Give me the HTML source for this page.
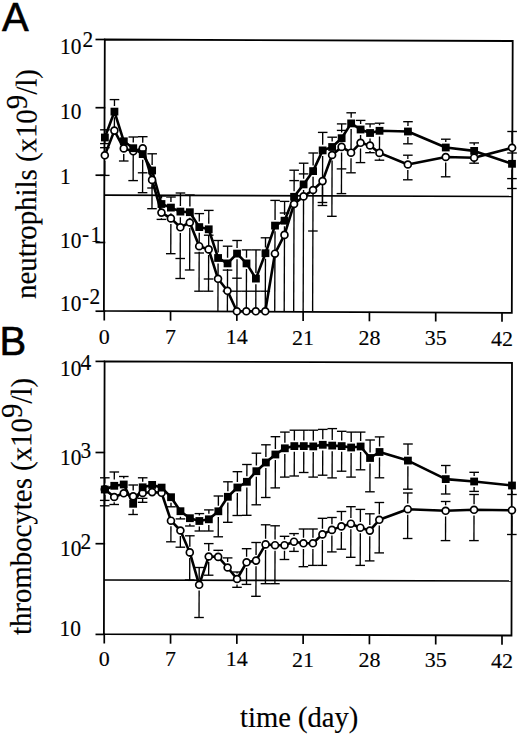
<!DOCTYPE html><html><head><meta charset="utf-8"><style>html,body{margin:0;padding:0;background:#fff;}svg{display:block} text{stroke:#000;stroke-width:0.15px;}</style></head><body>
<svg width="520" height="735" viewBox="0 0 520 735">
<rect width="520" height="735" fill="#fff"/>
<line x1="104.90" y1="131.90" x2="104.91" y2="129.80" stroke="#000" stroke-width="1.35"/>
<line x1="100.11" y1="129.80" x2="109.71" y2="129.80" stroke="#000" stroke-width="1.35"/>
<line x1="104.88" y1="137.50" x2="104.86" y2="143.60" stroke="#000" stroke-width="1.35"/>
<line x1="100.06" y1="143.60" x2="109.66" y2="143.60" stroke="#000" stroke-width="1.35"/>
<line x1="104.84" y1="149.70" x2="104.85" y2="147.70" stroke="#000" stroke-width="1.35"/>
<line x1="100.05" y1="147.70" x2="109.65" y2="147.70" stroke="#000" stroke-width="1.35"/>
<line x1="104.80" y1="160.90" x2="104.75" y2="175.40" stroke="#000" stroke-width="1.35"/>
<line x1="99.95" y1="175.40" x2="109.55" y2="175.40" stroke="#000" stroke-width="1.35"/>
<line x1="114.46" y1="106.00" x2="114.48" y2="99.60" stroke="#000" stroke-width="1.35"/>
<line x1="109.68" y1="99.60" x2="119.28" y2="99.60" stroke="#000" stroke-width="1.35"/>
<line x1="114.42" y1="117.20" x2="114.38" y2="130.60" stroke="#000" stroke-width="1.35"/>
<line x1="123.76" y1="154.00" x2="123.74" y2="161.00" stroke="#000" stroke-width="1.35"/>
<line x1="118.94" y1="161.00" x2="128.54" y2="161.00" stroke="#000" stroke-width="1.35"/>
<line x1="133.27" y1="142.60" x2="133.29" y2="137.00" stroke="#000" stroke-width="1.35"/>
<line x1="128.49" y1="137.00" x2="138.09" y2="137.00" stroke="#000" stroke-width="1.35"/>
<line x1="133.23" y1="153.80" x2="133.14" y2="180.60" stroke="#000" stroke-width="1.35"/>
<line x1="128.34" y1="180.60" x2="137.94" y2="180.60" stroke="#000" stroke-width="1.35"/>
<line x1="142.74" y1="142.80" x2="142.76" y2="136.70" stroke="#000" stroke-width="1.35"/>
<line x1="137.96" y1="136.70" x2="147.56" y2="136.70" stroke="#000" stroke-width="1.35"/>
<line x1="142.68" y1="159.70" x2="142.57" y2="192.70" stroke="#000" stroke-width="1.35"/>
<line x1="137.77" y1="192.70" x2="147.37" y2="192.70" stroke="#000" stroke-width="1.35"/>
<line x1="152.14" y1="164.90" x2="152.17" y2="153.80" stroke="#000" stroke-width="1.35"/>
<line x1="147.37" y1="153.80" x2="156.97" y2="153.80" stroke="#000" stroke-width="1.35"/>
<line x1="152.06" y1="185.50" x2="151.98" y2="208.70" stroke="#000" stroke-width="1.35"/>
<line x1="147.18" y1="208.70" x2="156.78" y2="208.70" stroke="#000" stroke-width="1.35"/>
<line x1="152.10" y1="176.10" x2="152.05" y2="188.00" stroke="#000" stroke-width="1.35"/>
<line x1="147.25" y1="188.00" x2="156.85" y2="188.00" stroke="#000" stroke-width="1.35"/>
<line x1="161.49" y1="198.40" x2="161.50" y2="196.00" stroke="#000" stroke-width="1.35"/>
<line x1="156.70" y1="196.00" x2="166.30" y2="196.00" stroke="#000" stroke-width="1.35"/>
<line x1="161.42" y1="218.20" x2="161.41" y2="219.40" stroke="#000" stroke-width="1.35"/>
<line x1="156.61" y1="219.40" x2="166.21" y2="219.40" stroke="#000" stroke-width="1.35"/>
<line x1="161.45" y1="209.60" x2="161.44" y2="212.60" stroke="#000" stroke-width="1.35"/>
<line x1="170.95" y1="202.00" x2="170.96" y2="197.00" stroke="#000" stroke-width="1.35"/>
<line x1="166.16" y1="197.00" x2="175.76" y2="197.00" stroke="#000" stroke-width="1.35"/>
<line x1="170.87" y1="224.00" x2="170.76" y2="253.70" stroke="#000" stroke-width="1.35"/>
<line x1="165.96" y1="253.70" x2="175.56" y2="253.70" stroke="#000" stroke-width="1.35"/>
<line x1="170.91" y1="213.20" x2="170.89" y2="218.40" stroke="#000" stroke-width="1.35"/>
<line x1="180.40" y1="206.00" x2="180.45" y2="193.00" stroke="#000" stroke-width="1.35"/>
<line x1="175.65" y1="193.00" x2="185.25" y2="193.00" stroke="#000" stroke-width="1.35"/>
<line x1="180.31" y1="232.90" x2="180.15" y2="278.50" stroke="#000" stroke-width="1.35"/>
<line x1="175.35" y1="278.50" x2="184.95" y2="278.50" stroke="#000" stroke-width="1.35"/>
<line x1="180.36" y1="217.20" x2="180.33" y2="227.30" stroke="#000" stroke-width="1.35"/>
<line x1="189.87" y1="206.60" x2="189.91" y2="195.00" stroke="#000" stroke-width="1.35"/>
<line x1="185.11" y1="195.00" x2="194.71" y2="195.00" stroke="#000" stroke-width="1.35"/>
<line x1="189.79" y1="228.10" x2="189.65" y2="270.00" stroke="#000" stroke-width="1.35"/>
<line x1="184.85" y1="270.00" x2="194.45" y2="270.00" stroke="#000" stroke-width="1.35"/>
<line x1="189.83" y1="217.80" x2="189.81" y2="222.50" stroke="#000" stroke-width="1.35"/>
<line x1="199.29" y1="221.50" x2="199.31" y2="213.60" stroke="#000" stroke-width="1.35"/>
<line x1="194.51" y1="213.60" x2="204.11" y2="213.60" stroke="#000" stroke-width="1.35"/>
<line x1="199.18" y1="251.80" x2="199.04" y2="291.20" stroke="#000" stroke-width="1.35"/>
<line x1="194.24" y1="291.20" x2="203.84" y2="291.20" stroke="#000" stroke-width="1.35"/>
<line x1="199.25" y1="232.70" x2="199.20" y2="246.20" stroke="#000" stroke-width="1.35"/>
<line x1="208.75" y1="223.70" x2="208.80" y2="210.40" stroke="#000" stroke-width="1.35"/>
<line x1="204.00" y1="210.40" x2="213.60" y2="210.40" stroke="#000" stroke-width="1.35"/>
<line x1="208.64" y1="255.00" x2="208.51" y2="291.20" stroke="#000" stroke-width="1.35"/>
<line x1="203.71" y1="291.20" x2="213.31" y2="291.20" stroke="#000" stroke-width="1.35"/>
<line x1="208.71" y1="234.90" x2="208.66" y2="249.40" stroke="#000" stroke-width="1.35"/>
<line x1="218.12" y1="252.40" x2="218.16" y2="240.50" stroke="#000" stroke-width="1.35"/>
<line x1="213.36" y1="240.50" x2="222.96" y2="240.50" stroke="#000" stroke-width="1.35"/>
<line x1="218.08" y1="263.60" x2="217.91" y2="311.00" stroke="#000" stroke-width="1.35"/>
<line x1="227.57" y1="257.80" x2="227.61" y2="246.20" stroke="#000" stroke-width="1.35"/>
<line x1="222.81" y1="246.20" x2="232.41" y2="246.20" stroke="#000" stroke-width="1.35"/>
<line x1="227.53" y1="269.00" x2="227.38" y2="311.00" stroke="#000" stroke-width="1.35"/>
<line x1="237.07" y1="248.00" x2="237.10" y2="240.50" stroke="#000" stroke-width="1.35"/>
<line x1="232.30" y1="240.50" x2="241.90" y2="240.50" stroke="#000" stroke-width="1.35"/>
<line x1="237.04" y1="259.20" x2="236.85" y2="311.00" stroke="#000" stroke-width="1.35"/>
<line x1="246.51" y1="257.80" x2="246.54" y2="249.90" stroke="#000" stroke-width="1.35"/>
<line x1="241.74" y1="249.90" x2="251.34" y2="249.90" stroke="#000" stroke-width="1.35"/>
<line x1="246.47" y1="269.00" x2="246.32" y2="311.00" stroke="#000" stroke-width="1.35"/>
<line x1="255.93" y1="273.00" x2="256.01" y2="249.90" stroke="#000" stroke-width="1.35"/>
<line x1="251.21" y1="249.90" x2="260.81" y2="249.90" stroke="#000" stroke-width="1.35"/>
<line x1="255.89" y1="284.20" x2="255.79" y2="311.00" stroke="#000" stroke-width="1.35"/>
<line x1="265.49" y1="247.60" x2="265.52" y2="237.80" stroke="#000" stroke-width="1.35"/>
<line x1="260.72" y1="237.80" x2="270.32" y2="237.80" stroke="#000" stroke-width="1.35"/>
<line x1="265.45" y1="258.80" x2="265.26" y2="311.00" stroke="#000" stroke-width="1.35"/>
<line x1="275.05" y1="220.00" x2="275.12" y2="200.40" stroke="#000" stroke-width="1.35"/>
<line x1="270.32" y1="200.40" x2="279.92" y2="200.40" stroke="#000" stroke-width="1.35"/>
<line x1="275.01" y1="231.20" x2="274.73" y2="311.00" stroke="#000" stroke-width="1.35"/>
<line x1="284.54" y1="215.10" x2="284.59" y2="201.40" stroke="#000" stroke-width="1.35"/>
<line x1="279.79" y1="201.40" x2="289.39" y2="201.40" stroke="#000" stroke-width="1.35"/>
<line x1="284.50" y1="226.30" x2="284.20" y2="311.00" stroke="#000" stroke-width="1.35"/>
<line x1="294.09" y1="191.20" x2="294.17" y2="170.20" stroke="#000" stroke-width="1.35"/>
<line x1="289.37" y1="170.20" x2="298.97" y2="170.20" stroke="#000" stroke-width="1.35"/>
<line x1="294.05" y1="202.40" x2="293.67" y2="311.00" stroke="#000" stroke-width="1.35"/>
<line x1="303.61" y1="178.80" x2="303.66" y2="163.20" stroke="#000" stroke-width="1.35"/>
<line x1="298.86" y1="163.20" x2="308.46" y2="163.20" stroke="#000" stroke-width="1.35"/>
<line x1="303.57" y1="190.00" x2="303.14" y2="311.00" stroke="#000" stroke-width="1.35"/>
<line x1="313.12" y1="165.50" x2="313.17" y2="153.00" stroke="#000" stroke-width="1.35"/>
<line x1="308.37" y1="153.00" x2="317.97" y2="153.00" stroke="#000" stroke-width="1.35"/>
<line x1="313.08" y1="176.70" x2="312.61" y2="311.00" stroke="#000" stroke-width="1.35"/>
<line x1="322.67" y1="144.80" x2="322.71" y2="132.40" stroke="#000" stroke-width="1.35"/>
<line x1="317.91" y1="132.40" x2="327.51" y2="132.40" stroke="#000" stroke-width="1.35"/>
<line x1="322.63" y1="156.00" x2="322.46" y2="202.50" stroke="#000" stroke-width="1.35"/>
<line x1="317.66" y1="202.50" x2="327.26" y2="202.50" stroke="#000" stroke-width="1.35"/>
<line x1="322.52" y1="186.70" x2="322.45" y2="205.50" stroke="#000" stroke-width="1.35"/>
<line x1="317.65" y1="205.50" x2="327.25" y2="205.50" stroke="#000" stroke-width="1.35"/>
<line x1="332.15" y1="141.40" x2="332.16" y2="137.20" stroke="#000" stroke-width="1.35"/>
<line x1="327.36" y1="137.20" x2="336.96" y2="137.20" stroke="#000" stroke-width="1.35"/>
<line x1="332.08" y1="160.60" x2="331.89" y2="216.30" stroke="#000" stroke-width="1.35"/>
<line x1="327.09" y1="216.30" x2="336.69" y2="216.30" stroke="#000" stroke-width="1.35"/>
<line x1="341.65" y1="132.60" x2="341.68" y2="123.90" stroke="#000" stroke-width="1.35"/>
<line x1="336.88" y1="123.90" x2="346.48" y2="123.90" stroke="#000" stroke-width="1.35"/>
<line x1="341.58" y1="152.50" x2="341.43" y2="193.60" stroke="#000" stroke-width="1.35"/>
<line x1="336.63" y1="193.60" x2="346.23" y2="193.60" stroke="#000" stroke-width="1.35"/>
<line x1="351.17" y1="117.80" x2="351.19" y2="112.80" stroke="#000" stroke-width="1.35"/>
<line x1="346.39" y1="112.80" x2="355.99" y2="112.80" stroke="#000" stroke-width="1.35"/>
<line x1="351.03" y1="158.30" x2="350.98" y2="172.80" stroke="#000" stroke-width="1.35"/>
<line x1="346.18" y1="172.80" x2="355.78" y2="172.80" stroke="#000" stroke-width="1.35"/>
<line x1="351.13" y1="129.00" x2="351.05" y2="152.70" stroke="#000" stroke-width="1.35"/>
<line x1="360.62" y1="123.90" x2="360.63" y2="120.40" stroke="#000" stroke-width="1.35"/>
<line x1="355.83" y1="120.40" x2="365.43" y2="120.40" stroke="#000" stroke-width="1.35"/>
<line x1="360.53" y1="148.40" x2="360.48" y2="162.60" stroke="#000" stroke-width="1.35"/>
<line x1="355.68" y1="162.60" x2="365.28" y2="162.60" stroke="#000" stroke-width="1.35"/>
<line x1="360.58" y1="135.10" x2="360.55" y2="142.80" stroke="#000" stroke-width="1.35"/>
<line x1="370.08" y1="127.40" x2="370.09" y2="123.90" stroke="#000" stroke-width="1.35"/>
<line x1="365.29" y1="123.90" x2="374.89" y2="123.90" stroke="#000" stroke-width="1.35"/>
<line x1="369.99" y1="151.10" x2="369.99" y2="152.70" stroke="#000" stroke-width="1.35"/>
<line x1="365.19" y1="152.70" x2="374.79" y2="152.70" stroke="#000" stroke-width="1.35"/>
<line x1="370.04" y1="138.60" x2="370.01" y2="145.50" stroke="#000" stroke-width="1.35"/>
<line x1="379.55" y1="125.20" x2="379.56" y2="123.20" stroke="#000" stroke-width="1.35"/>
<line x1="374.76" y1="123.20" x2="384.36" y2="123.20" stroke="#000" stroke-width="1.35"/>
<line x1="379.44" y1="158.50" x2="379.43" y2="160.20" stroke="#000" stroke-width="1.35"/>
<line x1="374.63" y1="160.20" x2="384.23" y2="160.20" stroke="#000" stroke-width="1.35"/>
<line x1="379.52" y1="136.40" x2="379.46" y2="152.90" stroke="#000" stroke-width="1.35"/>
<line x1="407.96" y1="125.90" x2="407.98" y2="121.70" stroke="#000" stroke-width="1.35"/>
<line x1="403.18" y1="121.70" x2="412.78" y2="121.70" stroke="#000" stroke-width="1.35"/>
<line x1="407.92" y1="137.10" x2="407.90" y2="143.80" stroke="#000" stroke-width="1.35"/>
<line x1="403.10" y1="143.80" x2="412.70" y2="143.80" stroke="#000" stroke-width="1.35"/>
<line x1="407.85" y1="158.90" x2="407.86" y2="155.20" stroke="#000" stroke-width="1.35"/>
<line x1="403.06" y1="155.20" x2="412.66" y2="155.20" stroke="#000" stroke-width="1.35"/>
<line x1="407.81" y1="170.10" x2="407.77" y2="179.80" stroke="#000" stroke-width="1.35"/>
<line x1="402.97" y1="179.80" x2="412.57" y2="179.80" stroke="#000" stroke-width="1.35"/>
<line x1="445.79" y1="141.90" x2="445.80" y2="139.20" stroke="#000" stroke-width="1.35"/>
<line x1="441.00" y1="139.20" x2="450.60" y2="139.20" stroke="#000" stroke-width="1.35"/>
<line x1="445.71" y1="162.60" x2="445.66" y2="176.80" stroke="#000" stroke-width="1.35"/>
<line x1="440.86" y1="176.80" x2="450.46" y2="176.80" stroke="#000" stroke-width="1.35"/>
<line x1="474.18" y1="145.30" x2="474.19" y2="142.90" stroke="#000" stroke-width="1.35"/>
<line x1="469.39" y1="142.90" x2="478.99" y2="142.90" stroke="#000" stroke-width="1.35"/>
<line x1="474.14" y1="157.70" x2="474.12" y2="163.20" stroke="#000" stroke-width="1.35"/>
<line x1="469.32" y1="163.20" x2="478.92" y2="163.20" stroke="#000" stroke-width="1.35"/>
<line x1="512.07" y1="142.20" x2="512.11" y2="131.50" stroke="#000" stroke-width="1.35"/>
<line x1="507.31" y1="131.50" x2="516.91" y2="131.50" stroke="#000" stroke-width="1.35"/>
<line x1="511.98" y1="169.40" x2="511.91" y2="188.50" stroke="#000" stroke-width="1.35"/>
<line x1="507.11" y1="188.50" x2="516.71" y2="188.50" stroke="#000" stroke-width="1.35"/>
<line x1="137.84" y1="172.80" x2="147.44" y2="172.80" stroke="#000" stroke-width="1.35"/>
<line x1="175.42" y1="258.50" x2="185.02" y2="258.50" stroke="#000" stroke-width="1.35"/>
<line x1="194.38" y1="253.00" x2="203.98" y2="253.00" stroke="#000" stroke-width="1.35"/>
<line x1="203.76" y1="279.00" x2="213.36" y2="279.00" stroke="#000" stroke-width="1.35"/>
<line x1="203.91" y1="235.20" x2="213.51" y2="235.20" stroke="#000" stroke-width="1.35"/>
<line x1="222.73" y1="270.10" x2="232.33" y2="270.10" stroke="#000" stroke-width="1.35"/>
<line x1="222.65" y1="291.20" x2="232.25" y2="291.20" stroke="#000" stroke-width="1.35"/>
<line x1="232.17" y1="278.20" x2="241.77" y2="278.20" stroke="#000" stroke-width="1.35"/>
<line x1="232.12" y1="291.20" x2="241.72" y2="291.20" stroke="#000" stroke-width="1.35"/>
<line x1="241.59" y1="291.20" x2="251.19" y2="291.20" stroke="#000" stroke-width="1.35"/>
<line x1="251.06" y1="291.20" x2="260.66" y2="291.20" stroke="#000" stroke-width="1.35"/>
<line x1="260.53" y1="291.20" x2="270.13" y2="291.20" stroke="#000" stroke-width="1.35"/>
<line x1="279.75" y1="213.00" x2="289.35" y2="213.00" stroke="#000" stroke-width="1.35"/>
<line x1="289.33" y1="180.60" x2="298.93" y2="180.60" stroke="#000" stroke-width="1.35"/>
<line x1="298.82" y1="173.90" x2="308.42" y2="173.90" stroke="#000" stroke-width="1.35"/>
<line x1="308.09" y1="231.00" x2="317.69" y2="231.00" stroke="#000" stroke-width="1.35"/>
<line x1="336.72" y1="168.90" x2="346.32" y2="168.90" stroke="#000" stroke-width="1.35"/>
<line x1="336.86" y1="130.40" x2="346.46" y2="130.40" stroke="#000" stroke-width="1.35"/>
<line x1="507.24" y1="153.00" x2="516.84" y2="153.00" stroke="#000" stroke-width="1.35"/>
<line x1="507.15" y1="178.60" x2="516.75" y2="178.60" stroke="#000" stroke-width="1.35"/>
<path d="M104.8,39.5 L512.7,41 L511.8,312.8 L103.9,310.9 Z" fill="none" stroke="#000" stroke-width="1.8"/>
<line x1="104.00" y1="195.20" x2="512.50" y2="196.50" stroke="#000" stroke-width="1.7"/>
<line x1="95.50" y1="39.50" x2="105.30" y2="39.50" stroke="#000" stroke-width="1.7"/>
<line x1="95.50" y1="107.70" x2="105.30" y2="107.70" stroke="#000" stroke-width="1.7"/>
<line x1="95.50" y1="175.20" x2="105.30" y2="175.20" stroke="#000" stroke-width="1.7"/>
<line x1="95.50" y1="242.50" x2="105.30" y2="242.50" stroke="#000" stroke-width="1.7"/>
<line x1="95.50" y1="311.20" x2="105.30" y2="311.20" stroke="#000" stroke-width="1.7"/>
<line x1="104.26" y1="311.00" x2="104.26" y2="320.50" stroke="#000" stroke-width="1.7"/>
<line x1="170.55" y1="311.20" x2="170.55" y2="320.70" stroke="#000" stroke-width="1.7"/>
<line x1="236.84" y1="311.40" x2="236.84" y2="320.90" stroke="#000" stroke-width="1.7"/>
<line x1="303.13" y1="311.60" x2="303.13" y2="321.10" stroke="#000" stroke-width="1.7"/>
<line x1="369.42" y1="311.80" x2="369.42" y2="321.30" stroke="#000" stroke-width="1.7"/>
<line x1="435.71" y1="312.00" x2="435.71" y2="321.50" stroke="#000" stroke-width="1.7"/>
<line x1="502.00" y1="312.20" x2="502.00" y2="321.70" stroke="#000" stroke-width="1.7"/>
<polyline fill="none" stroke="#000" stroke-width="2.6" stroke-linejoin="round" points="104.82,155.30 114.38,130.60 123.78,148.40 133.24,151.30 142.72,148.40 152.08,179.90 161.44,212.60 170.89,218.40 180.33,227.30 189.81,222.50 199.20,246.20 208.66,249.40 218.03,278.80 227.45,290.80 236.85,311.30 246.32,311.30 255.79,311.30 265.26,311.30 274.93,253.70 284.47,234.90 294.05,204.00 303.55,196.40 313.04,190.00 322.54,181.10 332.10,155.00 341.60,146.90 351.05,152.70 360.55,142.80 370.01,145.50 379.46,152.90 407.83,164.50 445.73,157.00 474.14,157.70 512.06,147.80"/>
<polyline fill="none" stroke="#000" stroke-width="2.6" stroke-linejoin="round" points="104.88,137.50 114.44,111.60 123.81,141.30 133.25,148.20 142.70,154.10 152.12,170.50 161.47,204.00 170.93,207.60 180.38,211.60 189.85,212.20 199.27,227.10 208.73,229.30 218.10,258.00 227.55,263.40 237.05,253.60 246.49,263.40 255.91,278.60 265.47,253.20 275.03,225.60 284.52,220.70 294.07,196.80 303.59,184.40 313.10,171.10 322.65,150.40 332.13,147.00 341.63,138.20 351.15,123.40 360.60,129.50 370.06,133.00 379.53,130.80 407.94,131.50 445.77,147.50 474.16,150.90 512.00,163.80"/>
<circle cx="104.82" cy="155.30" r="3.45" fill="#fff" stroke="#000" stroke-width="1.7"/>
<circle cx="114.38" cy="130.60" r="3.45" fill="#fff" stroke="#000" stroke-width="1.7"/>
<circle cx="123.78" cy="148.40" r="3.45" fill="#fff" stroke="#000" stroke-width="1.7"/>
<circle cx="133.24" cy="151.30" r="3.45" fill="#fff" stroke="#000" stroke-width="1.7"/>
<circle cx="142.72" cy="148.40" r="3.45" fill="#fff" stroke="#000" stroke-width="1.7"/>
<circle cx="152.08" cy="179.90" r="3.45" fill="#fff" stroke="#000" stroke-width="1.7"/>
<circle cx="161.44" cy="212.60" r="3.45" fill="#fff" stroke="#000" stroke-width="1.7"/>
<circle cx="170.89" cy="218.40" r="3.45" fill="#fff" stroke="#000" stroke-width="1.7"/>
<circle cx="180.33" cy="227.30" r="3.45" fill="#fff" stroke="#000" stroke-width="1.7"/>
<circle cx="189.81" cy="222.50" r="3.45" fill="#fff" stroke="#000" stroke-width="1.7"/>
<circle cx="199.20" cy="246.20" r="3.45" fill="#fff" stroke="#000" stroke-width="1.7"/>
<circle cx="208.66" cy="249.40" r="3.45" fill="#fff" stroke="#000" stroke-width="1.7"/>
<circle cx="218.03" cy="278.80" r="3.45" fill="#fff" stroke="#000" stroke-width="1.7"/>
<circle cx="227.45" cy="290.80" r="3.45" fill="#fff" stroke="#000" stroke-width="1.7"/>
<circle cx="236.85" cy="311.30" r="3.45" fill="#fff" stroke="#000" stroke-width="1.7"/>
<circle cx="246.32" cy="311.30" r="3.45" fill="#fff" stroke="#000" stroke-width="1.7"/>
<circle cx="255.79" cy="311.30" r="3.45" fill="#fff" stroke="#000" stroke-width="1.7"/>
<circle cx="265.26" cy="311.30" r="3.45" fill="#fff" stroke="#000" stroke-width="1.7"/>
<circle cx="274.93" cy="253.70" r="3.45" fill="#fff" stroke="#000" stroke-width="1.7"/>
<circle cx="284.47" cy="234.90" r="3.45" fill="#fff" stroke="#000" stroke-width="1.7"/>
<circle cx="294.05" cy="204.00" r="3.45" fill="#fff" stroke="#000" stroke-width="1.7"/>
<circle cx="303.55" cy="196.40" r="3.45" fill="#fff" stroke="#000" stroke-width="1.7"/>
<circle cx="313.04" cy="190.00" r="3.45" fill="#fff" stroke="#000" stroke-width="1.7"/>
<circle cx="322.54" cy="181.10" r="3.45" fill="#fff" stroke="#000" stroke-width="1.7"/>
<circle cx="332.10" cy="155.00" r="3.45" fill="#fff" stroke="#000" stroke-width="1.7"/>
<circle cx="341.60" cy="146.90" r="3.45" fill="#fff" stroke="#000" stroke-width="1.7"/>
<circle cx="351.05" cy="152.70" r="3.45" fill="#fff" stroke="#000" stroke-width="1.7"/>
<circle cx="360.55" cy="142.80" r="3.45" fill="#fff" stroke="#000" stroke-width="1.7"/>
<circle cx="370.01" cy="145.50" r="3.45" fill="#fff" stroke="#000" stroke-width="1.7"/>
<circle cx="379.46" cy="152.90" r="3.45" fill="#fff" stroke="#000" stroke-width="1.7"/>
<circle cx="407.83" cy="164.50" r="3.45" fill="#fff" stroke="#000" stroke-width="1.7"/>
<circle cx="445.73" cy="157.00" r="3.45" fill="#fff" stroke="#000" stroke-width="1.7"/>
<circle cx="474.14" cy="157.70" r="3.45" fill="#fff" stroke="#000" stroke-width="1.7"/>
<circle cx="512.06" cy="147.80" r="3.45" fill="#fff" stroke="#000" stroke-width="1.7"/>
<rect x="100.98" y="133.60" width="7.8" height="7.8" fill="#000"/>
<rect x="110.54" y="107.70" width="7.8" height="7.8" fill="#000"/>
<rect x="119.91" y="137.40" width="7.8" height="7.8" fill="#000"/>
<rect x="129.35" y="144.30" width="7.8" height="7.8" fill="#000"/>
<rect x="138.80" y="150.20" width="7.8" height="7.8" fill="#000"/>
<rect x="148.22" y="166.60" width="7.8" height="7.8" fill="#000"/>
<rect x="157.57" y="200.10" width="7.8" height="7.8" fill="#000"/>
<rect x="167.03" y="203.70" width="7.8" height="7.8" fill="#000"/>
<rect x="176.48" y="207.70" width="7.8" height="7.8" fill="#000"/>
<rect x="185.95" y="208.30" width="7.8" height="7.8" fill="#000"/>
<rect x="195.37" y="223.20" width="7.8" height="7.8" fill="#000"/>
<rect x="204.83" y="225.40" width="7.8" height="7.8" fill="#000"/>
<rect x="214.20" y="254.10" width="7.8" height="7.8" fill="#000"/>
<rect x="223.65" y="259.50" width="7.8" height="7.8" fill="#000"/>
<rect x="233.15" y="249.70" width="7.8" height="7.8" fill="#000"/>
<rect x="242.59" y="259.50" width="7.8" height="7.8" fill="#000"/>
<rect x="252.01" y="274.70" width="7.8" height="7.8" fill="#000"/>
<rect x="261.57" y="249.30" width="7.8" height="7.8" fill="#000"/>
<rect x="271.13" y="221.70" width="7.8" height="7.8" fill="#000"/>
<rect x="280.62" y="216.80" width="7.8" height="7.8" fill="#000"/>
<rect x="290.17" y="192.90" width="7.8" height="7.8" fill="#000"/>
<rect x="299.69" y="180.50" width="7.8" height="7.8" fill="#000"/>
<rect x="309.20" y="167.20" width="7.8" height="7.8" fill="#000"/>
<rect x="318.75" y="146.50" width="7.8" height="7.8" fill="#000"/>
<rect x="328.23" y="143.10" width="7.8" height="7.8" fill="#000"/>
<rect x="337.73" y="134.30" width="7.8" height="7.8" fill="#000"/>
<rect x="347.25" y="119.50" width="7.8" height="7.8" fill="#000"/>
<rect x="356.70" y="125.60" width="7.8" height="7.8" fill="#000"/>
<rect x="366.16" y="129.10" width="7.8" height="7.8" fill="#000"/>
<rect x="375.63" y="126.90" width="7.8" height="7.8" fill="#000"/>
<rect x="404.04" y="127.60" width="7.8" height="7.8" fill="#000"/>
<rect x="441.87" y="143.60" width="7.8" height="7.8" fill="#000"/>
<rect x="470.26" y="147.00" width="7.8" height="7.8" fill="#000"/>
<rect x="508.10" y="159.90" width="7.8" height="7.8" fill="#000"/>
<text x="104.3" y="343.7" text-anchor="middle" font-family='"Liberation Serif", serif' font-size="22">0</text>
<text x="170.6" y="344.0" text-anchor="middle" font-family='"Liberation Serif", serif' font-size="22">7</text>
<text x="236.8" y="344.3" text-anchor="middle" font-family='"Liberation Serif", serif' font-size="22">14</text>
<text x="303.1" y="344.6" text-anchor="middle" font-family='"Liberation Serif", serif' font-size="22">21</text>
<text x="369.4" y="344.9" text-anchor="middle" font-family='"Liberation Serif", serif' font-size="22">28</text>
<text x="435.7" y="345.2" text-anchor="middle" font-family='"Liberation Serif", serif' font-size="22">35</text>
<text x="502.0" y="345.5" text-anchor="middle" font-family='"Liberation Serif", serif' font-size="22">42</text>
<line x1="104.80" y1="483.60" x2="104.82" y2="477.80" stroke="#000" stroke-width="1.35"/>
<line x1="100.02" y1="477.80" x2="109.62" y2="477.80" stroke="#000" stroke-width="1.35"/>
<line x1="104.76" y1="494.80" x2="104.74" y2="500.40" stroke="#000" stroke-width="1.35"/>
<line x1="99.94" y1="500.40" x2="109.54" y2="500.40" stroke="#000" stroke-width="1.35"/>
<line x1="104.76" y1="494.60" x2="104.72" y2="505.80" stroke="#000" stroke-width="1.35"/>
<line x1="99.92" y1="505.80" x2="109.52" y2="505.80" stroke="#000" stroke-width="1.35"/>
<line x1="114.29" y1="479.40" x2="114.31" y2="472.00" stroke="#000" stroke-width="1.35"/>
<line x1="109.51" y1="472.00" x2="119.11" y2="472.00" stroke="#000" stroke-width="1.35"/>
<line x1="114.20" y1="502.30" x2="114.20" y2="504.50" stroke="#000" stroke-width="1.35"/>
<line x1="109.40" y1="504.50" x2="119.00" y2="504.50" stroke="#000" stroke-width="1.35"/>
<line x1="123.76" y1="478.50" x2="123.77" y2="476.50" stroke="#000" stroke-width="1.35"/>
<line x1="118.97" y1="476.50" x2="128.57" y2="476.50" stroke="#000" stroke-width="1.35"/>
<line x1="133.12" y1="509.20" x2="133.10" y2="514.50" stroke="#000" stroke-width="1.35"/>
<line x1="128.30" y1="514.50" x2="137.90" y2="514.50" stroke="#000" stroke-width="1.35"/>
<line x1="133.19" y1="490.40" x2="133.21" y2="485.00" stroke="#000" stroke-width="1.35"/>
<line x1="128.41" y1="485.00" x2="138.01" y2="485.00" stroke="#000" stroke-width="1.35"/>
<line x1="142.69" y1="481.70" x2="142.70" y2="477.80" stroke="#000" stroke-width="1.35"/>
<line x1="137.90" y1="477.80" x2="147.50" y2="477.80" stroke="#000" stroke-width="1.35"/>
<line x1="142.63" y1="498.60" x2="142.61" y2="502.30" stroke="#000" stroke-width="1.35"/>
<line x1="137.81" y1="502.30" x2="147.41" y2="502.30" stroke="#000" stroke-width="1.35"/>
<line x1="171.02" y1="502.80" x2="171.01" y2="506.80" stroke="#000" stroke-width="1.35"/>
<line x1="166.21" y1="506.80" x2="175.81" y2="506.80" stroke="#000" stroke-width="1.35"/>
<line x1="170.94" y1="526.30" x2="170.89" y2="541.80" stroke="#000" stroke-width="1.35"/>
<line x1="166.09" y1="541.80" x2="175.69" y2="541.80" stroke="#000" stroke-width="1.35"/>
<line x1="180.44" y1="516.80" x2="180.44" y2="518.90" stroke="#000" stroke-width="1.35"/>
<line x1="175.64" y1="518.90" x2="185.24" y2="518.90" stroke="#000" stroke-width="1.35"/>
<line x1="180.38" y1="536.10" x2="180.34" y2="547.20" stroke="#000" stroke-width="1.35"/>
<line x1="175.54" y1="547.20" x2="185.14" y2="547.20" stroke="#000" stroke-width="1.35"/>
<line x1="189.89" y1="523.80" x2="189.88" y2="526.00" stroke="#000" stroke-width="1.35"/>
<line x1="185.08" y1="526.00" x2="194.68" y2="526.00" stroke="#000" stroke-width="1.35"/>
<line x1="189.81" y1="546.80" x2="189.85" y2="535.80" stroke="#000" stroke-width="1.35"/>
<line x1="185.05" y1="535.80" x2="194.65" y2="535.80" stroke="#000" stroke-width="1.35"/>
<line x1="189.77" y1="558.00" x2="189.69" y2="580.00" stroke="#000" stroke-width="1.35"/>
<line x1="184.89" y1="580.00" x2="194.49" y2="580.00" stroke="#000" stroke-width="1.35"/>
<line x1="199.39" y1="515.40" x2="199.40" y2="513.60" stroke="#000" stroke-width="1.35"/>
<line x1="194.60" y1="513.60" x2="204.20" y2="513.60" stroke="#000" stroke-width="1.35"/>
<line x1="199.35" y1="526.60" x2="199.33" y2="531.00" stroke="#000" stroke-width="1.35"/>
<line x1="194.53" y1="531.00" x2="204.13" y2="531.00" stroke="#000" stroke-width="1.35"/>
<line x1="199.17" y1="579.20" x2="199.21" y2="567.50" stroke="#000" stroke-width="1.35"/>
<line x1="194.41" y1="567.50" x2="204.01" y2="567.50" stroke="#000" stroke-width="1.35"/>
<line x1="199.13" y1="590.40" x2="199.03" y2="617.50" stroke="#000" stroke-width="1.35"/>
<line x1="194.23" y1="617.50" x2="203.83" y2="617.50" stroke="#000" stroke-width="1.35"/>
<line x1="208.87" y1="513.70" x2="208.88" y2="509.90" stroke="#000" stroke-width="1.35"/>
<line x1="204.08" y1="509.90" x2="213.68" y2="509.90" stroke="#000" stroke-width="1.35"/>
<line x1="208.83" y1="524.90" x2="208.80" y2="531.00" stroke="#000" stroke-width="1.35"/>
<line x1="204.00" y1="531.00" x2="213.60" y2="531.00" stroke="#000" stroke-width="1.35"/>
<line x1="208.73" y1="550.90" x2="208.76" y2="543.60" stroke="#000" stroke-width="1.35"/>
<line x1="203.96" y1="543.60" x2="213.56" y2="543.60" stroke="#000" stroke-width="1.35"/>
<line x1="208.70" y1="562.10" x2="208.65" y2="575.20" stroke="#000" stroke-width="1.35"/>
<line x1="203.85" y1="575.20" x2="213.45" y2="575.20" stroke="#000" stroke-width="1.35"/>
<line x1="218.36" y1="505.70" x2="218.40" y2="496.00" stroke="#000" stroke-width="1.35"/>
<line x1="213.60" y1="496.00" x2="223.20" y2="496.00" stroke="#000" stroke-width="1.35"/>
<line x1="218.32" y1="516.90" x2="218.25" y2="536.80" stroke="#000" stroke-width="1.35"/>
<line x1="213.45" y1="536.80" x2="223.05" y2="536.80" stroke="#000" stroke-width="1.35"/>
<line x1="218.20" y1="551.30" x2="218.21" y2="550.30" stroke="#000" stroke-width="1.35"/>
<line x1="213.41" y1="550.30" x2="223.01" y2="550.30" stroke="#000" stroke-width="1.35"/>
<line x1="227.88" y1="491.20" x2="227.92" y2="481.80" stroke="#000" stroke-width="1.35"/>
<line x1="223.12" y1="481.80" x2="232.72" y2="481.80" stroke="#000" stroke-width="1.35"/>
<line x1="227.84" y1="502.40" x2="227.77" y2="522.30" stroke="#000" stroke-width="1.35"/>
<line x1="222.97" y1="522.30" x2="232.57" y2="522.30" stroke="#000" stroke-width="1.35"/>
<line x1="227.64" y1="561.90" x2="227.65" y2="557.90" stroke="#000" stroke-width="1.35"/>
<line x1="222.85" y1="557.90" x2="232.45" y2="557.90" stroke="#000" stroke-width="1.35"/>
<line x1="237.39" y1="481.90" x2="237.42" y2="471.70" stroke="#000" stroke-width="1.35"/>
<line x1="232.62" y1="471.70" x2="242.22" y2="471.70" stroke="#000" stroke-width="1.35"/>
<line x1="237.35" y1="493.10" x2="237.27" y2="515.50" stroke="#000" stroke-width="1.35"/>
<line x1="232.47" y1="515.50" x2="242.07" y2="515.50" stroke="#000" stroke-width="1.35"/>
<line x1="237.03" y1="584.60" x2="237.02" y2="587.30" stroke="#000" stroke-width="1.35"/>
<line x1="232.22" y1="587.30" x2="241.82" y2="587.30" stroke="#000" stroke-width="1.35"/>
<line x1="237.07" y1="573.40" x2="237.07" y2="572.00" stroke="#000" stroke-width="1.35"/>
<line x1="232.27" y1="572.00" x2="241.87" y2="572.00" stroke="#000" stroke-width="1.35"/>
<line x1="246.88" y1="476.20" x2="246.92" y2="464.50" stroke="#000" stroke-width="1.35"/>
<line x1="242.12" y1="464.50" x2="251.72" y2="464.50" stroke="#000" stroke-width="1.35"/>
<line x1="246.84" y1="487.40" x2="246.74" y2="515.30" stroke="#000" stroke-width="1.35"/>
<line x1="241.94" y1="515.30" x2="251.54" y2="515.30" stroke="#000" stroke-width="1.35"/>
<line x1="246.59" y1="556.70" x2="246.62" y2="548.70" stroke="#000" stroke-width="1.35"/>
<line x1="241.82" y1="548.70" x2="251.42" y2="548.70" stroke="#000" stroke-width="1.35"/>
<line x1="246.56" y1="567.90" x2="246.50" y2="584.40" stroke="#000" stroke-width="1.35"/>
<line x1="241.70" y1="584.40" x2="251.30" y2="584.40" stroke="#000" stroke-width="1.35"/>
<line x1="256.38" y1="465.60" x2="256.43" y2="453.20" stroke="#000" stroke-width="1.35"/>
<line x1="251.63" y1="453.20" x2="261.23" y2="453.20" stroke="#000" stroke-width="1.35"/>
<line x1="256.34" y1="476.80" x2="256.25" y2="504.80" stroke="#000" stroke-width="1.35"/>
<line x1="251.45" y1="504.80" x2="261.05" y2="504.80" stroke="#000" stroke-width="1.35"/>
<line x1="256.07" y1="555.00" x2="256.11" y2="542.50" stroke="#000" stroke-width="1.35"/>
<line x1="251.31" y1="542.50" x2="260.91" y2="542.50" stroke="#000" stroke-width="1.35"/>
<line x1="256.03" y1="566.20" x2="255.93" y2="596.30" stroke="#000" stroke-width="1.35"/>
<line x1="251.13" y1="596.30" x2="260.73" y2="596.30" stroke="#000" stroke-width="1.35"/>
<line x1="265.88" y1="456.90" x2="265.93" y2="444.80" stroke="#000" stroke-width="1.35"/>
<line x1="261.13" y1="444.80" x2="270.73" y2="444.80" stroke="#000" stroke-width="1.35"/>
<line x1="265.84" y1="468.10" x2="265.74" y2="497.50" stroke="#000" stroke-width="1.35"/>
<line x1="260.94" y1="497.50" x2="270.54" y2="497.50" stroke="#000" stroke-width="1.35"/>
<line x1="265.60" y1="538.80" x2="265.65" y2="524.80" stroke="#000" stroke-width="1.35"/>
<line x1="260.85" y1="524.80" x2="270.45" y2="524.80" stroke="#000" stroke-width="1.35"/>
<line x1="265.56" y1="550.00" x2="265.44" y2="583.70" stroke="#000" stroke-width="1.35"/>
<line x1="260.64" y1="583.70" x2="270.24" y2="583.70" stroke="#000" stroke-width="1.35"/>
<line x1="275.38" y1="448.90" x2="275.42" y2="436.70" stroke="#000" stroke-width="1.35"/>
<line x1="270.62" y1="436.70" x2="280.22" y2="436.70" stroke="#000" stroke-width="1.35"/>
<line x1="275.34" y1="460.10" x2="275.25" y2="487.90" stroke="#000" stroke-width="1.35"/>
<line x1="270.45" y1="487.90" x2="280.05" y2="487.90" stroke="#000" stroke-width="1.35"/>
<line x1="275.06" y1="539.60" x2="275.11" y2="525.80" stroke="#000" stroke-width="1.35"/>
<line x1="270.31" y1="525.80" x2="279.91" y2="525.80" stroke="#000" stroke-width="1.35"/>
<line x1="275.03" y1="550.80" x2="274.91" y2="583.70" stroke="#000" stroke-width="1.35"/>
<line x1="270.11" y1="583.70" x2="279.71" y2="583.70" stroke="#000" stroke-width="1.35"/>
<line x1="284.87" y1="442.70" x2="284.91" y2="432.10" stroke="#000" stroke-width="1.35"/>
<line x1="280.11" y1="432.10" x2="289.71" y2="432.10" stroke="#000" stroke-width="1.35"/>
<line x1="284.83" y1="453.90" x2="284.75" y2="477.10" stroke="#000" stroke-width="1.35"/>
<line x1="279.95" y1="477.10" x2="289.55" y2="477.10" stroke="#000" stroke-width="1.35"/>
<line x1="284.53" y1="539.60" x2="284.55" y2="536.30" stroke="#000" stroke-width="1.35"/>
<line x1="279.75" y1="536.30" x2="289.35" y2="536.30" stroke="#000" stroke-width="1.35"/>
<line x1="284.50" y1="550.80" x2="284.46" y2="559.50" stroke="#000" stroke-width="1.35"/>
<line x1="279.66" y1="559.50" x2="289.26" y2="559.50" stroke="#000" stroke-width="1.35"/>
<line x1="294.35" y1="440.50" x2="294.39" y2="430.20" stroke="#000" stroke-width="1.35"/>
<line x1="289.59" y1="430.20" x2="299.19" y2="430.20" stroke="#000" stroke-width="1.35"/>
<line x1="294.31" y1="451.70" x2="294.23" y2="476.00" stroke="#000" stroke-width="1.35"/>
<line x1="289.43" y1="476.00" x2="299.03" y2="476.00" stroke="#000" stroke-width="1.35"/>
<line x1="294.02" y1="536.10" x2="294.03" y2="533.60" stroke="#000" stroke-width="1.35"/>
<line x1="289.23" y1="533.60" x2="298.83" y2="533.60" stroke="#000" stroke-width="1.35"/>
<line x1="293.98" y1="547.30" x2="293.96" y2="551.40" stroke="#000" stroke-width="1.35"/>
<line x1="289.16" y1="551.40" x2="298.76" y2="551.40" stroke="#000" stroke-width="1.35"/>
<line x1="303.82" y1="440.50" x2="303.86" y2="430.20" stroke="#000" stroke-width="1.35"/>
<line x1="299.06" y1="430.20" x2="308.66" y2="430.20" stroke="#000" stroke-width="1.35"/>
<line x1="303.78" y1="451.70" x2="303.71" y2="472.50" stroke="#000" stroke-width="1.35"/>
<line x1="298.91" y1="472.50" x2="308.51" y2="472.50" stroke="#000" stroke-width="1.35"/>
<line x1="303.48" y1="537.70" x2="303.51" y2="529.00" stroke="#000" stroke-width="1.35"/>
<line x1="298.71" y1="529.00" x2="308.31" y2="529.00" stroke="#000" stroke-width="1.35"/>
<line x1="303.44" y1="548.90" x2="303.38" y2="566.70" stroke="#000" stroke-width="1.35"/>
<line x1="298.58" y1="566.70" x2="308.18" y2="566.70" stroke="#000" stroke-width="1.35"/>
<line x1="313.29" y1="440.80" x2="313.33" y2="430.20" stroke="#000" stroke-width="1.35"/>
<line x1="308.53" y1="430.20" x2="318.13" y2="430.20" stroke="#000" stroke-width="1.35"/>
<line x1="313.25" y1="452.00" x2="313.16" y2="477.10" stroke="#000" stroke-width="1.35"/>
<line x1="308.36" y1="477.10" x2="317.96" y2="477.10" stroke="#000" stroke-width="1.35"/>
<line x1="312.95" y1="537.70" x2="312.98" y2="529.00" stroke="#000" stroke-width="1.35"/>
<line x1="308.18" y1="529.00" x2="317.78" y2="529.00" stroke="#000" stroke-width="1.35"/>
<line x1="312.91" y1="548.90" x2="312.85" y2="565.40" stroke="#000" stroke-width="1.35"/>
<line x1="308.05" y1="565.40" x2="317.65" y2="565.40" stroke="#000" stroke-width="1.35"/>
<line x1="322.77" y1="439.20" x2="322.80" y2="429.40" stroke="#000" stroke-width="1.35"/>
<line x1="318.00" y1="429.40" x2="327.60" y2="429.40" stroke="#000" stroke-width="1.35"/>
<line x1="322.73" y1="450.40" x2="322.64" y2="475.20" stroke="#000" stroke-width="1.35"/>
<line x1="317.84" y1="475.20" x2="327.44" y2="475.20" stroke="#000" stroke-width="1.35"/>
<line x1="322.45" y1="528.80" x2="322.49" y2="518.30" stroke="#000" stroke-width="1.35"/>
<line x1="317.69" y1="518.30" x2="327.29" y2="518.30" stroke="#000" stroke-width="1.35"/>
<line x1="322.41" y1="540.00" x2="322.32" y2="565.40" stroke="#000" stroke-width="1.35"/>
<line x1="317.52" y1="565.40" x2="327.12" y2="565.40" stroke="#000" stroke-width="1.35"/>
<line x1="332.23" y1="440.00" x2="332.27" y2="428.60" stroke="#000" stroke-width="1.35"/>
<line x1="327.47" y1="428.60" x2="337.07" y2="428.60" stroke="#000" stroke-width="1.35"/>
<line x1="332.19" y1="451.20" x2="332.10" y2="477.90" stroke="#000" stroke-width="1.35"/>
<line x1="327.30" y1="477.90" x2="336.90" y2="477.90" stroke="#000" stroke-width="1.35"/>
<line x1="331.94" y1="524.30" x2="331.96" y2="517.50" stroke="#000" stroke-width="1.35"/>
<line x1="327.16" y1="517.50" x2="336.76" y2="517.50" stroke="#000" stroke-width="1.35"/>
<line x1="331.90" y1="535.50" x2="331.84" y2="551.90" stroke="#000" stroke-width="1.35"/>
<line x1="327.04" y1="551.90" x2="336.64" y2="551.90" stroke="#000" stroke-width="1.35"/>
<line x1="341.70" y1="440.50" x2="341.73" y2="431.30" stroke="#000" stroke-width="1.35"/>
<line x1="336.93" y1="431.30" x2="346.53" y2="431.30" stroke="#000" stroke-width="1.35"/>
<line x1="341.66" y1="451.70" x2="341.59" y2="471.20" stroke="#000" stroke-width="1.35"/>
<line x1="336.79" y1="471.20" x2="346.39" y2="471.20" stroke="#000" stroke-width="1.35"/>
<line x1="341.42" y1="520.80" x2="341.45" y2="511.50" stroke="#000" stroke-width="1.35"/>
<line x1="336.65" y1="511.50" x2="346.25" y2="511.50" stroke="#000" stroke-width="1.35"/>
<line x1="341.38" y1="532.00" x2="341.32" y2="549.20" stroke="#000" stroke-width="1.35"/>
<line x1="336.52" y1="549.20" x2="346.12" y2="549.20" stroke="#000" stroke-width="1.35"/>
<line x1="351.17" y1="441.90" x2="351.20" y2="432.10" stroke="#000" stroke-width="1.35"/>
<line x1="346.40" y1="432.10" x2="356.00" y2="432.10" stroke="#000" stroke-width="1.35"/>
<line x1="351.13" y1="453.10" x2="351.04" y2="477.10" stroke="#000" stroke-width="1.35"/>
<line x1="346.24" y1="477.10" x2="355.84" y2="477.10" stroke="#000" stroke-width="1.35"/>
<line x1="350.90" y1="518.10" x2="350.94" y2="506.70" stroke="#000" stroke-width="1.35"/>
<line x1="346.14" y1="506.70" x2="355.74" y2="506.70" stroke="#000" stroke-width="1.35"/>
<line x1="350.86" y1="529.30" x2="350.76" y2="557.30" stroke="#000" stroke-width="1.35"/>
<line x1="345.96" y1="557.30" x2="355.56" y2="557.30" stroke="#000" stroke-width="1.35"/>
<line x1="360.64" y1="440.90" x2="360.67" y2="432.10" stroke="#000" stroke-width="1.35"/>
<line x1="355.87" y1="432.10" x2="365.47" y2="432.10" stroke="#000" stroke-width="1.35"/>
<line x1="360.60" y1="452.10" x2="360.54" y2="469.80" stroke="#000" stroke-width="1.35"/>
<line x1="355.74" y1="469.80" x2="365.34" y2="469.80" stroke="#000" stroke-width="1.35"/>
<line x1="360.36" y1="522.10" x2="360.40" y2="509.40" stroke="#000" stroke-width="1.35"/>
<line x1="355.60" y1="509.40" x2="365.20" y2="509.40" stroke="#000" stroke-width="1.35"/>
<line x1="360.32" y1="533.30" x2="360.20" y2="565.40" stroke="#000" stroke-width="1.35"/>
<line x1="355.40" y1="565.40" x2="365.00" y2="565.40" stroke="#000" stroke-width="1.35"/>
<line x1="370.07" y1="452.40" x2="370.11" y2="440.00" stroke="#000" stroke-width="1.35"/>
<line x1="365.31" y1="440.00" x2="374.91" y2="440.00" stroke="#000" stroke-width="1.35"/>
<line x1="370.03" y1="463.60" x2="369.93" y2="491.80" stroke="#000" stroke-width="1.35"/>
<line x1="365.13" y1="491.80" x2="374.73" y2="491.80" stroke="#000" stroke-width="1.35"/>
<line x1="369.82" y1="525.00" x2="369.85" y2="513.80" stroke="#000" stroke-width="1.35"/>
<line x1="365.05" y1="513.80" x2="374.65" y2="513.80" stroke="#000" stroke-width="1.35"/>
<line x1="369.78" y1="536.20" x2="369.69" y2="560.90" stroke="#000" stroke-width="1.35"/>
<line x1="364.89" y1="560.90" x2="374.49" y2="560.90" stroke="#000" stroke-width="1.35"/>
<line x1="379.56" y1="446.40" x2="379.59" y2="436.90" stroke="#000" stroke-width="1.35"/>
<line x1="374.79" y1="436.90" x2="384.39" y2="436.90" stroke="#000" stroke-width="1.35"/>
<line x1="379.52" y1="457.60" x2="379.45" y2="477.80" stroke="#000" stroke-width="1.35"/>
<line x1="374.65" y1="477.80" x2="384.25" y2="477.80" stroke="#000" stroke-width="1.35"/>
<line x1="379.32" y1="514.20" x2="379.36" y2="502.50" stroke="#000" stroke-width="1.35"/>
<line x1="374.56" y1="502.50" x2="384.16" y2="502.50" stroke="#000" stroke-width="1.35"/>
<line x1="379.28" y1="525.40" x2="379.19" y2="552.90" stroke="#000" stroke-width="1.35"/>
<line x1="374.39" y1="552.90" x2="383.99" y2="552.90" stroke="#000" stroke-width="1.35"/>
<line x1="407.94" y1="455.00" x2="407.98" y2="444.00" stroke="#000" stroke-width="1.35"/>
<line x1="403.18" y1="444.00" x2="412.78" y2="444.00" stroke="#000" stroke-width="1.35"/>
<line x1="407.90" y1="466.20" x2="407.82" y2="489.20" stroke="#000" stroke-width="1.35"/>
<line x1="403.02" y1="489.20" x2="412.62" y2="489.20" stroke="#000" stroke-width="1.35"/>
<line x1="407.77" y1="503.60" x2="407.81" y2="493.00" stroke="#000" stroke-width="1.35"/>
<line x1="403.01" y1="493.00" x2="412.61" y2="493.00" stroke="#000" stroke-width="1.35"/>
<line x1="407.73" y1="514.80" x2="407.65" y2="538.50" stroke="#000" stroke-width="1.35"/>
<line x1="402.85" y1="538.50" x2="412.45" y2="538.50" stroke="#000" stroke-width="1.35"/>
<line x1="445.76" y1="473.50" x2="445.78" y2="465.50" stroke="#000" stroke-width="1.35"/>
<line x1="440.98" y1="465.50" x2="450.58" y2="465.50" stroke="#000" stroke-width="1.35"/>
<line x1="445.72" y1="484.70" x2="445.68" y2="494.00" stroke="#000" stroke-width="1.35"/>
<line x1="440.88" y1="494.00" x2="450.48" y2="494.00" stroke="#000" stroke-width="1.35"/>
<line x1="445.64" y1="505.20" x2="445.66" y2="501.50" stroke="#000" stroke-width="1.35"/>
<line x1="440.86" y1="501.50" x2="450.46" y2="501.50" stroke="#000" stroke-width="1.35"/>
<line x1="445.61" y1="516.40" x2="445.52" y2="540.60" stroke="#000" stroke-width="1.35"/>
<line x1="440.72" y1="540.60" x2="450.32" y2="540.60" stroke="#000" stroke-width="1.35"/>
<line x1="474.16" y1="475.90" x2="474.17" y2="472.30" stroke="#000" stroke-width="1.35"/>
<line x1="469.37" y1="472.30" x2="478.97" y2="472.30" stroke="#000" stroke-width="1.35"/>
<line x1="474.12" y1="487.10" x2="474.10" y2="491.40" stroke="#000" stroke-width="1.35"/>
<line x1="469.30" y1="491.40" x2="478.90" y2="491.40" stroke="#000" stroke-width="1.35"/>
<line x1="474.06" y1="504.20" x2="474.09" y2="494.50" stroke="#000" stroke-width="1.35"/>
<line x1="469.29" y1="494.50" x2="478.89" y2="494.50" stroke="#000" stroke-width="1.35"/>
<line x1="474.02" y1="515.40" x2="473.93" y2="540.60" stroke="#000" stroke-width="1.35"/>
<line x1="469.13" y1="540.60" x2="478.73" y2="540.60" stroke="#000" stroke-width="1.35"/>
<line x1="511.98" y1="491.10" x2="511.97" y2="494.50" stroke="#000" stroke-width="1.35"/>
<line x1="507.17" y1="494.50" x2="516.77" y2="494.50" stroke="#000" stroke-width="1.35"/>
<line x1="511.90" y1="515.80" x2="511.83" y2="534.50" stroke="#000" stroke-width="1.35"/>
<line x1="507.03" y1="534.50" x2="516.63" y2="534.50" stroke="#000" stroke-width="1.35"/>
<line x1="137.83" y1="498.30" x2="147.43" y2="498.30" stroke="#000" stroke-width="1.35"/>
<path d="M104.6,361.4 L512,362.9 L511.5,635.5 L103.9,634.2 Z" fill="none" stroke="#000" stroke-width="1.8"/>
<line x1="104.00" y1="580.00" x2="511.70" y2="581.00" stroke="#000" stroke-width="1.7"/>
<line x1="95.50" y1="361.40" x2="105.10" y2="361.40" stroke="#000" stroke-width="1.7"/>
<line x1="95.50" y1="452.50" x2="105.10" y2="452.50" stroke="#000" stroke-width="1.7"/>
<line x1="95.50" y1="543.70" x2="105.10" y2="543.70" stroke="#000" stroke-width="1.7"/>
<line x1="95.50" y1="634.40" x2="105.10" y2="634.40" stroke="#000" stroke-width="1.7"/>
<line x1="104.26" y1="634.50" x2="104.26" y2="643.50" stroke="#000" stroke-width="1.7"/>
<line x1="170.55" y1="634.70" x2="170.55" y2="643.70" stroke="#000" stroke-width="1.7"/>
<line x1="236.84" y1="634.90" x2="236.84" y2="643.90" stroke="#000" stroke-width="1.7"/>
<line x1="303.13" y1="635.10" x2="303.13" y2="644.10" stroke="#000" stroke-width="1.7"/>
<line x1="369.42" y1="635.30" x2="369.42" y2="644.30" stroke="#000" stroke-width="1.7"/>
<line x1="435.71" y1="635.50" x2="435.71" y2="644.50" stroke="#000" stroke-width="1.7"/>
<line x1="502.00" y1="635.70" x2="502.00" y2="644.70" stroke="#000" stroke-width="1.7"/>
<polyline fill="none" stroke="#000" stroke-width="2.6" stroke-linejoin="round" points="104.78,489.30 114.22,497.00 123.71,493.30 133.17,496.30 142.65,493.00 152.12,492.10 161.59,492.80 170.96,520.70 180.40,530.50 189.79,552.40 199.15,584.80 208.72,556.50 218.18,556.90 227.62,567.50 237.05,579.00 246.57,562.30 256.05,560.60 265.58,544.40 275.04,545.20 284.51,545.20 294.00,541.70 303.46,543.30 312.93,543.30 322.43,534.40 331.92,529.90 341.40,526.40 350.88,523.70 360.34,527.70 369.80,530.60 379.30,519.80 407.75,509.20 445.63,510.80 474.04,509.80 511.92,510.20"/>
<polyline fill="none" stroke="#000" stroke-width="2.6" stroke-linejoin="round" points="104.78,489.50 114.26,485.80 123.74,484.50 133.14,503.80 142.67,487.30 152.15,484.90 161.61,487.60 171.04,497.20 180.46,511.20 189.91,518.20 199.37,521.00 208.85,519.30 218.34,511.30 227.86,496.80 237.37,487.50 246.86,481.80 256.36,471.20 265.86,462.50 275.36,454.50 284.85,448.30 294.33,446.10 303.80,446.10 313.27,446.40 322.75,444.80 332.21,445.60 341.68,446.10 351.15,447.50 360.62,446.50 370.05,458.00 379.54,452.00 407.92,460.60 445.74,479.10 474.14,481.50 512.00,485.50"/>
<circle cx="104.78" cy="489.30" r="3.45" fill="#fff" stroke="#000" stroke-width="1.7"/>
<circle cx="114.22" cy="497.00" r="3.45" fill="#fff" stroke="#000" stroke-width="1.7"/>
<circle cx="123.71" cy="493.30" r="3.45" fill="#fff" stroke="#000" stroke-width="1.7"/>
<circle cx="133.17" cy="496.30" r="3.45" fill="#fff" stroke="#000" stroke-width="1.7"/>
<circle cx="142.65" cy="493.00" r="3.45" fill="#fff" stroke="#000" stroke-width="1.7"/>
<circle cx="152.12" cy="492.10" r="3.45" fill="#fff" stroke="#000" stroke-width="1.7"/>
<circle cx="161.59" cy="492.80" r="3.45" fill="#fff" stroke="#000" stroke-width="1.7"/>
<circle cx="170.96" cy="520.70" r="3.45" fill="#fff" stroke="#000" stroke-width="1.7"/>
<circle cx="180.40" cy="530.50" r="3.45" fill="#fff" stroke="#000" stroke-width="1.7"/>
<circle cx="189.79" cy="552.40" r="3.45" fill="#fff" stroke="#000" stroke-width="1.7"/>
<circle cx="199.15" cy="584.80" r="3.45" fill="#fff" stroke="#000" stroke-width="1.7"/>
<circle cx="208.72" cy="556.50" r="3.45" fill="#fff" stroke="#000" stroke-width="1.7"/>
<circle cx="218.18" cy="556.90" r="3.45" fill="#fff" stroke="#000" stroke-width="1.7"/>
<circle cx="227.62" cy="567.50" r="3.45" fill="#fff" stroke="#000" stroke-width="1.7"/>
<circle cx="237.05" cy="579.00" r="3.45" fill="#fff" stroke="#000" stroke-width="1.7"/>
<circle cx="246.57" cy="562.30" r="3.45" fill="#fff" stroke="#000" stroke-width="1.7"/>
<circle cx="256.05" cy="560.60" r="3.45" fill="#fff" stroke="#000" stroke-width="1.7"/>
<circle cx="265.58" cy="544.40" r="3.45" fill="#fff" stroke="#000" stroke-width="1.7"/>
<circle cx="275.04" cy="545.20" r="3.45" fill="#fff" stroke="#000" stroke-width="1.7"/>
<circle cx="284.51" cy="545.20" r="3.45" fill="#fff" stroke="#000" stroke-width="1.7"/>
<circle cx="294.00" cy="541.70" r="3.45" fill="#fff" stroke="#000" stroke-width="1.7"/>
<circle cx="303.46" cy="543.30" r="3.45" fill="#fff" stroke="#000" stroke-width="1.7"/>
<circle cx="312.93" cy="543.30" r="3.45" fill="#fff" stroke="#000" stroke-width="1.7"/>
<circle cx="322.43" cy="534.40" r="3.45" fill="#fff" stroke="#000" stroke-width="1.7"/>
<circle cx="331.92" cy="529.90" r="3.45" fill="#fff" stroke="#000" stroke-width="1.7"/>
<circle cx="341.40" cy="526.40" r="3.45" fill="#fff" stroke="#000" stroke-width="1.7"/>
<circle cx="350.88" cy="523.70" r="3.45" fill="#fff" stroke="#000" stroke-width="1.7"/>
<circle cx="360.34" cy="527.70" r="3.45" fill="#fff" stroke="#000" stroke-width="1.7"/>
<circle cx="369.80" cy="530.60" r="3.45" fill="#fff" stroke="#000" stroke-width="1.7"/>
<circle cx="379.30" cy="519.80" r="3.45" fill="#fff" stroke="#000" stroke-width="1.7"/>
<circle cx="407.75" cy="509.20" r="3.45" fill="#fff" stroke="#000" stroke-width="1.7"/>
<circle cx="445.63" cy="510.80" r="3.45" fill="#fff" stroke="#000" stroke-width="1.7"/>
<circle cx="474.04" cy="509.80" r="3.45" fill="#fff" stroke="#000" stroke-width="1.7"/>
<circle cx="511.92" cy="510.20" r="3.45" fill="#fff" stroke="#000" stroke-width="1.7"/>
<rect x="100.88" y="485.60" width="7.8" height="7.8" fill="#000"/>
<rect x="110.36" y="481.90" width="7.8" height="7.8" fill="#000"/>
<rect x="119.84" y="480.60" width="7.8" height="7.8" fill="#000"/>
<rect x="129.24" y="499.90" width="7.8" height="7.8" fill="#000"/>
<rect x="138.77" y="483.40" width="7.8" height="7.8" fill="#000"/>
<rect x="148.25" y="481.00" width="7.8" height="7.8" fill="#000"/>
<rect x="157.71" y="483.70" width="7.8" height="7.8" fill="#000"/>
<rect x="167.14" y="493.30" width="7.8" height="7.8" fill="#000"/>
<rect x="176.56" y="507.30" width="7.8" height="7.8" fill="#000"/>
<rect x="186.01" y="514.30" width="7.8" height="7.8" fill="#000"/>
<rect x="195.47" y="517.10" width="7.8" height="7.8" fill="#000"/>
<rect x="204.95" y="515.40" width="7.8" height="7.8" fill="#000"/>
<rect x="214.44" y="507.40" width="7.8" height="7.8" fill="#000"/>
<rect x="223.96" y="492.90" width="7.8" height="7.8" fill="#000"/>
<rect x="233.47" y="483.60" width="7.8" height="7.8" fill="#000"/>
<rect x="242.96" y="477.90" width="7.8" height="7.8" fill="#000"/>
<rect x="252.46" y="467.30" width="7.8" height="7.8" fill="#000"/>
<rect x="261.96" y="458.60" width="7.8" height="7.8" fill="#000"/>
<rect x="271.46" y="450.60" width="7.8" height="7.8" fill="#000"/>
<rect x="280.95" y="444.40" width="7.8" height="7.8" fill="#000"/>
<rect x="290.43" y="442.20" width="7.8" height="7.8" fill="#000"/>
<rect x="299.90" y="442.20" width="7.8" height="7.8" fill="#000"/>
<rect x="309.37" y="442.50" width="7.8" height="7.8" fill="#000"/>
<rect x="318.85" y="440.90" width="7.8" height="7.8" fill="#000"/>
<rect x="328.31" y="441.70" width="7.8" height="7.8" fill="#000"/>
<rect x="337.78" y="442.20" width="7.8" height="7.8" fill="#000"/>
<rect x="347.25" y="443.60" width="7.8" height="7.8" fill="#000"/>
<rect x="356.72" y="442.60" width="7.8" height="7.8" fill="#000"/>
<rect x="366.15" y="454.10" width="7.8" height="7.8" fill="#000"/>
<rect x="375.64" y="448.10" width="7.8" height="7.8" fill="#000"/>
<rect x="404.02" y="456.70" width="7.8" height="7.8" fill="#000"/>
<rect x="441.84" y="475.20" width="7.8" height="7.8" fill="#000"/>
<rect x="470.24" y="477.60" width="7.8" height="7.8" fill="#000"/>
<rect x="508.10" y="481.60" width="7.8" height="7.8" fill="#000"/>
<text x="104.3" y="665.8" text-anchor="middle" font-family='"Liberation Serif", serif' font-size="22">0</text>
<text x="170.6" y="666.1" text-anchor="middle" font-family='"Liberation Serif", serif' font-size="22">7</text>
<text x="236.8" y="666.4" text-anchor="middle" font-family='"Liberation Serif", serif' font-size="22">14</text>
<text x="303.1" y="666.7" text-anchor="middle" font-family='"Liberation Serif", serif' font-size="22">21</text>
<text x="369.4" y="667.0" text-anchor="middle" font-family='"Liberation Serif", serif' font-size="22">28</text>
<text x="435.7" y="667.3" text-anchor="middle" font-family='"Liberation Serif", serif' font-size="22">35</text>
<text x="502.0" y="667.6" text-anchor="middle" font-family='"Liberation Serif", serif' font-size="22">42</text>
<text transform="translate(60,53.6) scale(0.93,1)" font-family='"Liberation Serif", serif' font-size="23" text-anchor="start">10</text>
<text transform="translate(82.6,46.6) scale(0.93,1)" font-family='"Liberation Serif", serif' font-size="23" text-anchor="start">2</text>
<text transform="translate(60,118.6) scale(0.93,1)" font-family='"Liberation Serif", serif' font-size="23" text-anchor="start">10</text>
<text transform="translate(60,183.6) scale(0.93,1)" font-family='"Liberation Serif", serif' font-size="23" text-anchor="start">1</text>
<text transform="translate(60,247.6) scale(0.93,1)" font-family='"Liberation Serif", serif' font-size="23" text-anchor="start">10</text>
<text transform="translate(82,242.3) scale(0.93,1)" font-family='"Liberation Serif", serif' font-size="23" text-anchor="start">-</text>
<text transform="translate(90.6,241.5) scale(0.93,1)" font-family='"Liberation Serif", serif' font-size="23" text-anchor="start">1</text>
<text transform="translate(60,310.7) scale(0.93,1)" font-family='"Liberation Serif", serif' font-size="23" text-anchor="start">10</text>
<text transform="translate(82,305) scale(0.93,1)" font-family='"Liberation Serif", serif' font-size="23" text-anchor="start">-</text>
<text transform="translate(89.6,304.3) scale(0.93,1)" font-family='"Liberation Serif", serif' font-size="23" text-anchor="start">2</text>
<text transform="translate(60,376.4) scale(0.93,1)" font-family='"Liberation Serif", serif' font-size="23" text-anchor="start">10</text>
<text transform="translate(80.5,370) scale(0.93,1)" font-family='"Liberation Serif", serif' font-size="23" text-anchor="start">4</text>
<text transform="translate(60,464.5) scale(0.93,1)" font-family='"Liberation Serif", serif' font-size="23" text-anchor="start">10</text>
<text transform="translate(80.5,457.6) scale(0.93,1)" font-family='"Liberation Serif", serif' font-size="23" text-anchor="start">3</text>
<text transform="translate(60,556.3) scale(0.93,1)" font-family='"Liberation Serif", serif' font-size="23" text-anchor="start">10</text>
<text transform="translate(80.5,549) scale(0.93,1)" font-family='"Liberation Serif", serif' font-size="23" text-anchor="start">2</text>
<text transform="translate(59.5,636.3) scale(0.93,1)" font-family='"Liberation Serif", serif' font-size="23" text-anchor="start">10</text>
<text x="1.9" y="30.8" font-family='"Liberation Sans", sans-serif' font-size="40" style="stroke-width:0.6px">A</text>
<text x="-0.5" y="354.5" font-family='"Liberation Sans", sans-serif' font-size="40" style="stroke-width:0.6px">B</text>
<text transform="translate(35.8,298.9) rotate(-89.8)" font-family='"Liberation Serif", serif' font-size="30" textLength="229.7" lengthAdjust="spacingAndGlyphs">neutrophils (x10<tspan dy="-9.7">9</tspan><tspan dy="9.7">/l)</tspan></text>
<text transform="translate(30.7,635.1) rotate(-89.8)" font-family='"Liberation Serif", serif' font-size="30" textLength="257.1" lengthAdjust="spacingAndGlyphs">thrombocytes (x10<tspan dy="-9.7">9</tspan><tspan dy="9.7">/l)</tspan></text>
<text x="240" y="726.8" font-family='"Liberation Serif", serif' font-size="28.6">time (day)</text>
</svg></body></html>
